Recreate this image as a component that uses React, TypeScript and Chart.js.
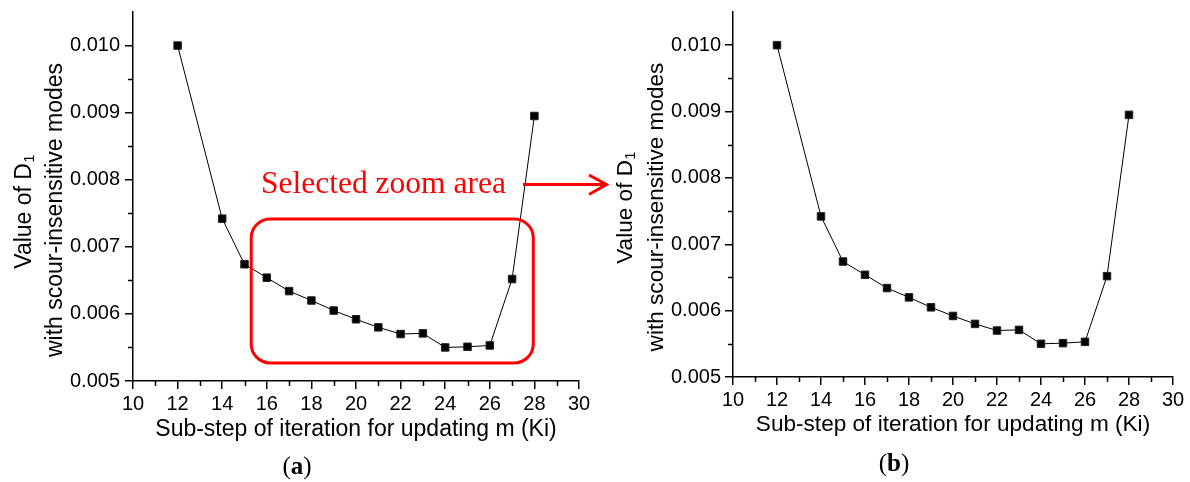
import React, { useEffect, useRef } from "react";
import { Chart, registerables } from "chart.js";

Chart.register(...registerables);

// ---- data ----
const subSteps = [12, 14, 15, 16, 17, 18, 19, 20, 21, 22, 23, 24, 25, 26, 27, 28];
const d1Values = [
  0.0100, 0.00742, 0.00674, 0.00654, 0.00634, 0.0062, 0.00605, 0.00592, 0.0058, 0.0057, 0.00571,
  0.0055, 0.00551, 0.00553, 0.00652, 0.00895,
];
const xTicks = [10, 12, 14, 16, 18, 20, 22, 24, 26, 28, 30];
const xMinorTicks = [11, 13, 15, 17, 19, 21, 23, 25, 27, 29];
const yTicks = [0.005, 0.006, 0.007, 0.008, 0.009, 0.01];
const yMinorTicks = [0.0055, 0.0065, 0.0075, 0.0085, 0.0095];
const xTitle = "Sub-step of iteration for updating m (Ki)";
const yTitleMain = "Value of D";
const yTitleSub = "1";
const yTitleLine2 = "with scour-insensitive modes";
const annotationText = "Selected zoom area";
const panelLetters = ["a", "b"];
// zoom window (data units) marked on panel (a)
const zoomBoxX = [15.3, 27.95];
const zoomBoxY = [0.00527, 0.007415];

const SANS = '"Liberation Sans", Arial, sans-serif';
const SERIF = '"Liberation Serif", "Times New Roman", serif';

type Panel = {
  left: number;
  right: number;
  top: number;
  bottom: number;
  yPad: number;
  xPad: number;
  titleSize: number;
  xTitleBase: number;
  yLine1Base: number;
  yLine2Base: number;
  yLine1Center: number;
  yLine2Center: number;
  capX: number;
  capBase: number;
  letter: string;
  annotate: boolean;
};

const panels: Panel[] = [
  {
    left: 133, right: 579, top: 12, bottom: 381, yPad: 5, xPad: 3, titleSize: 23,
    xTitleBase: 435.5, yLine1Base: 30.5, yLine2Base: 62, yLine1Center: 212, yLine2Center: 210,
    capX: 297, capBase: 473.5, letter: panelLetters[0], annotate: true,
  },
  {
    left: 733, right: 1173, top: 12, bottom: 377, yPad: 4, xPad: 3, titleSize: 22.6,
    xTitleBase: 431, yLine1Base: 631.5, yLine2Base: 663, yLine1Center: 208, yLine2Center: 207,
    capX: 894, capBase: 470.5, letter: panelLetters[1], annotate: false,
  },
];

const W = 1190;
const H = 482;
const CAP_SIZE = 25;

function roundRect(ctx: CanvasRenderingContext2D, x0: number, y0: number, x1: number, y1: number, r: number) {
  ctx.beginPath();
  ctx.moveTo(x0 + r, y0);
  ctx.lineTo(x1 - r, y0);
  ctx.arcTo(x1, y0, x1, y0 + r, r);
  ctx.lineTo(x1, y1 - r);
  ctx.arcTo(x1, y1, x1 - r, y1, r);
  ctx.lineTo(x0 + r, y1);
  ctx.arcTo(x0, y1, x0, y1 - r, r);
  ctx.lineTo(x0, y0 + r);
  ctx.arcTo(x0, y0, x0 + r, y0, r);
  ctx.closePath();
}

function makeConfig(p: Panel): any {
  const decor = {
    id: "decor" + p.letter,
    afterDraw(chart: any) {
      const ctx: CanvasRenderingContext2D = chart.ctx;
      const xs = chart.scales.x;
      const ys = chart.scales.y;
      const ca = chart.chartArea;
      ctx.save();
      // minor ticks
      ctx.strokeStyle = "#000";
      ctx.lineWidth = 1.5;
      ctx.beginPath();
      xMinorTicks.forEach((v) => {
        const px = Math.round(xs.getPixelForValue(v)) + 0.5;
        ctx.moveTo(px, ca.bottom);
        ctx.lineTo(px, ca.bottom + 5);
      });
      yMinorTicks.forEach((v) => {
        const py = Math.round(ys.getPixelForValue(v)) + 0.5;
        ctx.moveTo(ca.left, py);
        ctx.lineTo(ca.left - 5, py);
      });
      ctx.stroke();

      // x title
      ctx.fillStyle = "#000";
      ctx.font = `${p.titleSize}px ${SANS}`;
      ctx.textAlign = "center";
      ctx.textBaseline = "alphabetic";
      ctx.fillText(xTitle, (ca.left + ca.right) / 2, p.xTitleBase);

      // y title (rotated)
      ctx.save();
      ctx.translate(p.yLine2Base, p.yLine2Center);
      ctx.rotate(-Math.PI / 2);
      ctx.fillText(yTitleLine2, 0, 0);
      ctx.restore();

      ctx.save();
      ctx.translate(p.yLine1Base, p.yLine1Center);
      ctx.rotate(-Math.PI / 2);
      ctx.textAlign = "left";
      ctx.font = `${p.titleSize}px ${SANS}`;
      const w1 = ctx.measureText(yTitleMain).width;
      ctx.font = `${Math.round(p.titleSize * 0.62)}px ${SANS}`;
      const w2 = ctx.measureText(yTitleSub).width;
      const start = -(w1 + w2) / 2;
      ctx.font = `${p.titleSize}px ${SANS}`;
      ctx.fillText(yTitleMain, start, 0);
      ctx.font = `${Math.round(p.titleSize * 0.62)}px ${SANS}`;
      ctx.fillText(yTitleSub, start + w1 + 0.5, 3);
      ctx.restore();

      // caption "(a)" / "(b)"
      ctx.textAlign = "left";
      ctx.font = `${CAP_SIZE}px ${SERIF}`;
      const wp = ctx.measureText("(").width;
      const wpr = ctx.measureText(")").width;
      ctx.font = `bold ${CAP_SIZE}px ${SERIF}`;
      const wl = ctx.measureText(p.letter).width;
      let cx = p.capX - (wp + wl + wpr) / 2;
      ctx.font = `${CAP_SIZE}px ${SERIF}`;
      ctx.fillText("(", cx, p.capBase);
      cx += wp;
      ctx.font = `bold ${CAP_SIZE}px ${SERIF}`;
      ctx.fillText(p.letter, cx, p.capBase);
      cx += wl;
      ctx.font = `${CAP_SIZE}px ${SERIF}`;
      ctx.fillText(")", cx, p.capBase);

      if (p.annotate) {
        ctx.strokeStyle = "#ff0000";
        ctx.fillStyle = "#ff0000";
        ctx.lineWidth = 3;
        const bx0 = xs.getPixelForValue(zoomBoxX[0]);
        const bx1 = xs.getPixelForValue(zoomBoxX[1]);
        const by0 = ys.getPixelForValue(zoomBoxY[1]);
        const by1 = ys.getPixelForValue(zoomBoxY[0]);
        roundRect(ctx, bx0, by0, bx1, by1, 19);
        ctx.stroke();

        ctx.font = `31.5px ${SERIF}`;
        ctx.textAlign = "left";
        ctx.fillText(annotationText, 261, 193.3);

        ctx.lineWidth = 3;
        ctx.beginPath();
        ctx.moveTo(523, 184.5);
        ctx.lineTo(606, 184.5);
        ctx.stroke();
        ctx.beginPath();
        ctx.moveTo(589, 175);
        ctx.lineTo(606.5, 184.5);
        ctx.lineTo(589, 194.5);
        ctx.stroke();
      }
      ctx.restore();
    },
  };

  const tickFont = { family: SANS, size: 20 };

  return {
    type: "line",
    data: {
      datasets: [
        {
          data: subSteps.map((x, i) => ({ x, y: d1Values[i] })),
          borderColor: "#000",
          borderWidth: 1,
          backgroundColor: "#000",
          pointStyle: "rect",
          pointRadius: 5.3,
          pointBorderWidth: 1,
          pointBorderColor: "#222",
          pointBackgroundColor: "#000",
          tension: 0,
          fill: false,
        },
      ],
    },
    options: {
      responsive: false,
      animation: false,
      devicePixelRatio: 1,
      events: [],
      layout: { padding: { left: 0, right: W - p.right, top: p.top, bottom: 0 } },
      plugins: { legend: { display: false }, tooltip: { enabled: false }, title: { display: false } },
      scales: {
        x: {
          type: "linear",
          min: 10,
          max: 30,
          afterBuildTicks: (s: any) => {
            s.ticks = xTicks.map((v) => ({ value: v }));
          },
          afterFit: (s: any) => {
            s.height = H - p.bottom;
            s.paddingLeft = 0;
            s.paddingRight = 0;
          },
          border: { display: true, color: "#000", width: 1.5 },
          grid: { display: true, drawOnChartArea: false, drawTicks: true, tickLength: 8, color: "#000", lineWidth: 1.5 },
          ticks: {
            color: "#000",
            font: tickFont,
            padding: p.xPad,
            autoSkip: false,
            maxRotation: 0,
            callback: (v: any) => String(v),
          },
        },
        y: {
          type: "linear",
          min: 0.005,
          max: 0.0105,
          afterBuildTicks: (s: any) => {
            s.ticks = yTicks.map((v) => ({ value: v }));
          },
          afterFit: (s: any) => {
            s.width = p.left;
            s.paddingTop = 0;
            s.paddingBottom = 0;
          },
          border: { display: true, color: "#000", width: 1.5 },
          grid: { display: true, drawOnChartArea: false, drawTicks: true, tickLength: 8, color: "#000", lineWidth: 1.5 },
          ticks: {
            color: "#000",
            font: tickFont,
            padding: p.yPad,
            autoSkip: false,
            callback: (v: any) => Number(v).toFixed(3),
          },
        },
      },
    },
    plugins: [decor],
  };
}

function PanelChart({ panel }: { panel: Panel }) {
  const ref = useRef<HTMLCanvasElement | null>(null);
  useEffect(() => {
    if (!ref.current) return;
    const chart = new Chart(ref.current, makeConfig(panel));
    return () => chart.destroy();
  }, [panel]);
  return (
    <canvas
      ref={ref}
      width={W}
      height={H}
      style={{ position: "absolute", left: 0, top: 0, width: W, height: H }}
    />
  );
}

export default function App() {
  return (
    <div style={{ position: "absolute", left: 0, top: 0, width: W, height: H, background: "#fff" }}>
      {panels.map((p) => (
        <PanelChart key={p.letter} panel={p} />
      ))}
    </div>
  );
}
